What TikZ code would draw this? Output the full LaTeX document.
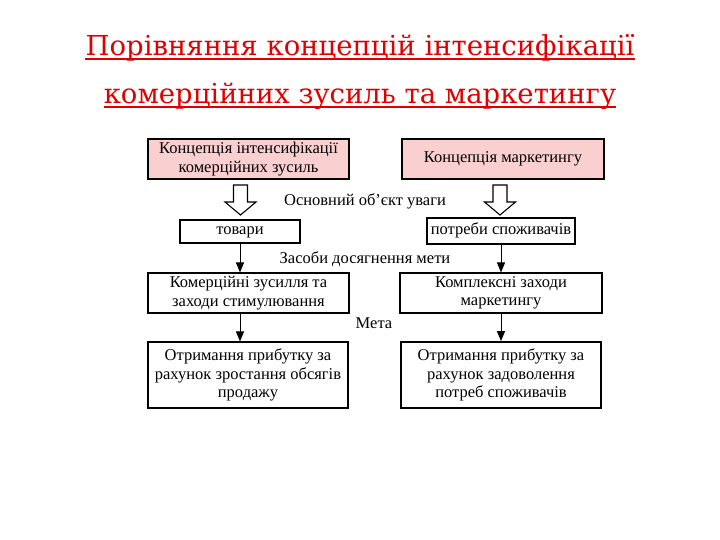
\documentclass[tikz,border=0pt]{standalone}
\usepackage{fontspec}
\setmainfont{Liberation Serif}
\newfontfamily\titlefont{DejaVu Serif}
\usepackage{xcolor}
\usetikzlibrary{positioning}
\usetikzlibrary{arrows.meta}

\definecolor{titlered}{RGB}{225,0,0}
\definecolor{conceptpink}{RGB}{249,207,207}
\newcommand\boxfont{\fontsize{16.5}{18.5}\selectfont}

\begin{document}
\begin{tikzpicture} [x=1pt, y=-1pt,
            % ----- Node definitions ----- %
            titlenode/.style = {
                inner sep=0pt,
                text=titlered,
                font=\titlefont\fontsize{27.5}{32}\selectfont
            },
            conceptnode/.style = {
                draw,
                rectangle,
                line width=1.3pt,
                fill=conceptpink,
                minimum width=#1,
                minimum height=40pt,
                inner sep=0pt,
                align=center,
                font=\boxfont
            },
            stagenode/.style = {
                draw,
                rectangle,
                line width=1.1pt,
                fill=white,
                minimum width=#1,
                inner sep=0pt,
                align=center,
                font=\boxfont
            },
            oneline/.style = {
                text height=10.5pt,
                text depth=3.5pt
            },
            labelnode/.style = {
                inner sep=0pt,
                font=\boxfont
            },
            downarrow/.style = {
                line width=1pt,
                -{Triangle[length=10pt,width=8pt]}
            },
            hollowarrow/.style = {
                draw,
                line width=1.1pt,
                fill=white
            },
    ]

            % ----- Background ----- %
        \useasboundingbox (0,0) rectangle (720,540);

            % ----- Title ----- %
        \node [titlenode, anchor=base] (titleone) at (360,56)
            {Порівняння концепцій інтенсифікації\hspace{0.3em}};
        \node [titlenode, anchor=base] (titletwo) at (360,104)
            {комерційних зусиль та маркетингу\hspace{0.4em}};
        \draw [titlered, line width=2pt]
            ([yshift=-3.5pt]titleone.base west) -- ([yshift=-3.5pt]titleone.base east);
        \draw [titlered, line width=2pt]
            ([yshift=-3.5pt]titletwo.base west) -- ([yshift=-3.5pt]titletwo.base east);

            % ----- Node constructions ----- %
        \node [conceptnode=201pt] (intens) at (248.5,159)
            {Концепція інтенсифікації\\комерційних зусиль};
        \node [conceptnode=202pt, oneline] (market) at (503,159)
            {Концепція маркетингу};

        \node [stagenode=120pt, minimum height=23pt, oneline] (goods) at (240,231.5)
            {товари};
        \node [stagenode=148pt, minimum height=26pt, oneline, line width=1.8pt] (needs) at (501,231)
            {потреби споживачів};

        \node [stagenode=201pt, minimum height=40pt] (effort) at (248.5,293)
            {Комерційні зусилля та\\заходи стимулювання};
        \node [stagenode=202pt, minimum height=40pt] (complex) at (501,293)
            {Комплексні заходи\\маркетингу};

        \node [stagenode=200pt, minimum height=66pt] (salesprofit) at (248,375)
            {Отримання прибутку за\\рахунок зростання обсягів\\продажу};
        \node [stagenode=200pt, minimum height=66pt, line width=1.8pt] (needsprofit) at (501,375)
            {Отримання прибутку за\\рахунок задоволення\\потреб споживачів};

            % ----- Labels ----- %
        \node [labelnode] (objectlabel) at (365,201) {Основний об’єкт уваги};
        \node [labelnode] (meanslabel) at (365,259) {Засоби досягнення мети};
        \node [labelnode] (goallabel) at (374,323) {Мета};

            % ----- Hollow arrows ----- %
        \coordinate (intensarrow) at (240.5,185);
        \coordinate (marketarrow) at (500,185);
        \foreach \c in {intensarrow, marketarrow} {
            \draw [hollowarrow] (\c) ++(-7,0) -- ++(0,17) -- ++(-8.5,0)
                -- ++(15.5,13) -- ++(15.5,-13) -- ++(-8.5,0) -- ++(0,-17) -- cycle;
        }

            % ----- Connectors ----- %
        \draw [downarrow] (goods.south) -- (goods.south |- effort.north);
        \draw [downarrow] (needs.south) -- (needs.south |- complex.north);
        \draw [downarrow] (effort.south -| goods.south) -- (goods.south |- salesprofit.north);
        \draw [downarrow] (complex.south -| needs.south) -- (needs.south |- needsprofit.north);

\end{tikzpicture}
\end{document}
